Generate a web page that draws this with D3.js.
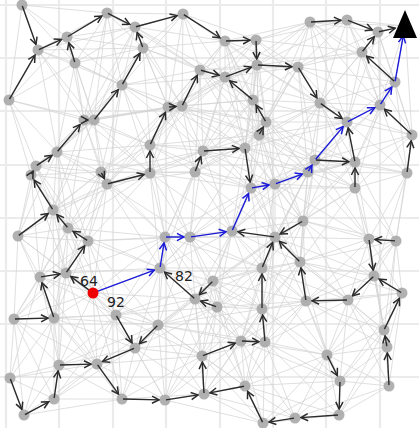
<!DOCTYPE html>
<html>
<head>
<meta charset="utf-8">
<script src="https://cdn.jsdelivr.net/npm/d3@7"></script>
<style>
  html, body { margin: 0; padding: 0; background: #fff; }
  svg { display: block; }
</style>
</head>
<body>
<svg id="chart" width="419" height="428"></svg>
<script>
// Roadmap nodes (field units), indexed by id
const nodeIds = [1,2,3,4,5,6,7,8,9,10,11,12,13,14,15,16,17,18,19,20,21,22,23,24,25,26,27,28,29,30,
  31,32,33,34,35,36,37,38,39,40,41,42,43,44,45,46,47,48,49,50,51,52,53,54,56,57,58,59,60,
  61,62,63,64,65,66,67,68,69,70,71,72,73,74,75,76,77,78,79,80,81,82,83,84,85,86,87,88,89,90,
  91,92,93,94,95,96,97,98,99];
const nodeX = [22,38,67,75,107,135,9,122,84,94,183,225,256,257,200,225,253,266,259,168,182,310,347,378,362,395,298,320,347,380,
  412,315,355,308,355,407,303,369,396,374,300,150,150,203,245,251,275,195,165,190,232,275,262,160,195,217,213,262,57,
  36,31,53,18,68,88,66,40,101,107,14,54,116,135,97,122,59,54,24,10,158,241,265,202,204,165,245,263,306,348,
  402,384,387,389,327,340,339,295,143];
const nodeY = [5,50,37,63,13,27,100,85,120,120,14,41,40,65,70,77,100,122,135,107,106,22,20,32,52,82,67,103,122,105,
  135,160,162,172,188,173,221,239,241,276,262,145,173,151,148,188,184,172,237,237,231,237,268,268,299,307,281,309,152,
  166,175,210,236,228,241,273,277,172,184,319,318,315,348,364,399,365,399,415,378,325,341,342,356,394,400,386,423,301,300,
  293,330,347,386,355,381,415,418,48];

const startNode = { id: "S", x: 93, y: 293 };
const goalNode = { id: "G", x: 405, y: 26 };

// Search-tree arrows: [from, to]
const treeArrows = [
  [1,2],[2,3],[4,3],[3,5],[5,6],[99,6],[6,11],[8,99],[7,2],[10,8],[9,10],[60,9],
  [11,12],[12,13],[13,14],[14,27],[15,16],[16,14],[17,16],[18,17],[19,18],[21,15],[20,21],[42,20],[43,42],[70,43],[69,70],
  [22,23],[23,24],[24,"G"],[25,24],[26,25],[27,28],[28,29],[31,30],[36,31],[32,33],[33,29],[35,33],
  [44,45],[45,46],[48,44],[52,51],[37,52],[53,52],[41,52],[59,53],[83,59],[82,83],[84,82],[85,84],[86,85],[87,85],
  [88,87],[98,88],[97,98],[96,97],[95,96],
  [76,86],[75,76],[74,75],[77,75],[78,77],[79,78],[80,79],[81,74],[73,74],[71,72],[72,68],[68,67],[67,66],[66,65],
  [65,63],[64,63],[63,62],[62,61],[61,60],
  ["S",67],[56,54],[57,56],[58,56],[89,41],[90,89],[40,90],[91,40],[92,91],[93,92],[94,93],[38,40],[39,38]
];

// Shortest path from start to goal
const pathNodes = ["S",54,49,50,51,46,47,34,32,29,30,26,"G"];

// Annotations near the start
const noteText = ["64", "82", "92"];
const noteX = [80, 175, 107];
const noteY = [286, 281, 307];

// Background grid positions (field units)
const gridX = [6, 59, 113, 166, 220, 273, 326, 380];
const gridY = [5, 58, 111, 165, 218, 271, 324, 377];

// Roadmap connection radius (field units)
const linkRadius = 110;

const W = 419, H = 428;
const svg = d3.select("#chart");
const x = d3.scaleLinear().domain([0, 419]).range([0, W]);
const y = d3.scaleLinear().domain([0, 428]).range([0, H]);

const nodes = nodeIds.map((id, i) => ({ id, x: nodeX[i], y: nodeY[i] }));
const all = nodes.concat([startNode, goalNode]);
const byId = new Map(all.map(d => [d.id, d]));

// grid
svg.append("g").selectAll("line.gx").data(gridX).join("line")
  .attr("x1", d => x(d)).attr("x2", d => x(d)).attr("y1", 0).attr("y2", H)
  .attr("stroke", "#ebebeb").attr("stroke-width", 2.2);
svg.append("g").selectAll("line.gy").data(gridY).join("line")
  .attr("y1", d => y(d)).attr("y2", d => y(d)).attr("x1", 0).attr("x2", W)
  .attr("stroke", "#ebebeb").attr("stroke-width", 2.2);

// roadmap edges
const links = [];
for (let i = 0; i < all.length; i++) {
  for (let j = i + 1; j < all.length; j++) {
    const a = all[i], b = all[j];
    if (Math.hypot(a.x - b.x, a.y - b.y) <= linkRadius) links.push([a, b]);
  }
}
svg.append("g").selectAll("line").data(links).join("line")
  .attr("x1", d => x(d[0].x)).attr("y1", d => y(d[0].y))
  .attr("x2", d => x(d[1].x)).attr("y2", d => y(d[1].y))
  .attr("stroke", "#d4d4d4").attr("stroke-opacity", 0.75).attr("stroke-width", 1);

// nodes
svg.append("g").selectAll("circle").data(nodes).join("circle")
  .attr("cx", d => x(d.x)).attr("cy", d => y(d.y)).attr("r", 5.5)
  .attr("fill", "#a9a9a9").attr("fill-opacity", 0.9);

// arrow markers
const defs = svg.append("defs");
function marker(id, color) {
  defs.append("marker").attr("id", id)
    .attr("viewBox", "-9 -5 10 10").attr("refX", 0).attr("refY", 0)
    .attr("markerWidth", 10).attr("markerHeight", 10)
    .attr("markerUnits", "userSpaceOnUse").attr("orient", "auto")
    .append("path").attr("d", "M-7,-3.6 L0,0 L-7,3.6")
    .attr("fill", "none").attr("stroke", color).attr("stroke-width", 1.5)
    .attr("stroke-linejoin", "miter");
}
marker("headBlack", "#2b2b2b");
marker("headBlue", "#1a1ad8");

function seg(a, b, shrinkA, shrinkB) {
  const x1 = x(a.x), y1 = y(a.y), x2 = x(b.x), y2 = y(b.y);
  const L = Math.hypot(x2 - x1, y2 - y1) || 1;
  const ux = (x2 - x1) / L, uy = (y2 - y1) / L;
  return [x1 + ux * shrinkA, y1 + uy * shrinkA, x2 - ux * shrinkB, y2 - uy * shrinkB];
}

const pathPairs = d3.pairs(pathNodes);
const pathKey = new Set(pathPairs.map(p => p.join(">")));

svg.append("g").selectAll("line").data(treeArrows.filter(p => !pathKey.has(p.join(">")))).join("line")
  .each(function (p) {
    const b = byId.get(p[1]);
    const s = seg(byId.get(p[0]), b, 1, b.id === "G" ? 10 : 6);
    d3.select(this).attr("x1", s[0]).attr("y1", s[1]).attr("x2", s[2]).attr("y2", s[3]);
  })
  .attr("stroke", "#2b2b2b").attr("stroke-width", 1.4)
  .attr("marker-end", "url(#headBlack)");

svg.append("g").selectAll("line").data(pathPairs).join("line")
  .each(function (p) {
    const b = byId.get(p[1]);
    const s = seg(byId.get(p[0]), b, 1, b.id === "G" ? 10 : 6);
    d3.select(this).attr("x1", s[0]).attr("y1", s[1]).attr("x2", s[2]).attr("y2", s[3]);
  })
  .attr("stroke", "#1a1ad8").attr("stroke-width", 1.4)
  .attr("marker-end", "url(#headBlue)");

// start and goal
svg.append("circle").attr("cx", x(startNode.x)).attr("cy", y(startNode.y)).attr("r", 5.5)
  .attr("fill", "#ee0000");
const gx = x(goalNode.x), gy = y(goalNode.y);
svg.append("path")
  .attr("d", `M${gx},${gy - 16} L${gx + 12},${gy + 12} L${gx - 12},${gy + 12} Z`)
  .attr("fill", "#000");

// annotations
svg.append("g").selectAll("text").data(noteText).join("text")
  .attr("x", (d, i) => x(noteX[i])).attr("y", (d, i) => y(noteY[i]))
  .attr("font-family", "DejaVu Sans, sans-serif").attr("font-size", 14)
  .attr("fill", "#222").text(d => d);
</script>
</body>
</html>
